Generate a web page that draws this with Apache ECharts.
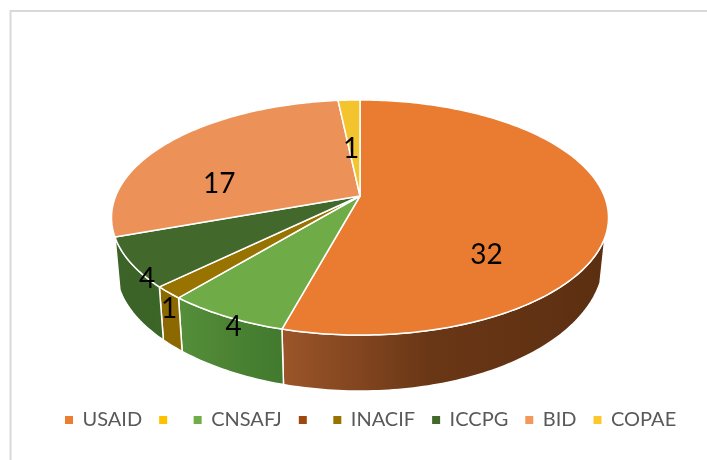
<!DOCTYPE html>
<html>
<head>
<meta charset="utf-8">
<style>
  html, body { margin: 0; padding: 0; background: #fff; }
  #chart { width: 707px; height: 460px; }
</style>
</head>
<body>
<div id="chart"></div>
<script src="https://cdn.jsdelivr.net/npm/echarts@6/dist/echarts.min.js"></script>
<script>
// two legend entries have no text in the original, zero width characters keep them distinct
var categories = ["USAID", "\u200b", "CNSAFJ", "\u200c", "INACIF", "ICCPG", "BID", "COPAE"];
var values = [32, 0, 4, 0, 1, 4, 17, 1];

var topColors = ["#e97c30", "#ffc000", "#6fab46", "#9e480e", "#997300", "#43682b", "#ec9259", "#f4c42e"];
var legendColors = ["#ed7d31", "#ffc000", "#70ad47", "#9e480e", "#997300", "#43682b", "#f4985a", "#ffc72e"];
var wallStops = [
  ["#9c5529", "#6a3716", "#5c2f11"],
  ["#9c7400", "#9c7400", "#9c7400"],
  ["#558f3a", "#4c8434", "#427a2e"],
  ["#9e480e", "#9e480e", "#9e480e"],
  ["#8c6900", "#8c6900", "#8c6900"],
  ["#3c6428", "#3b6327", "#3c6528"],
  ["#c47a48", "#c47a48", "#c47a48"],
  ["#c9a020", "#c9a020", "#c9a020"],
];
// label shift from the middle of the slice top, zero slices have no label
var labelShift = [[4, 51], [0, 0], [-65, 76], [0, 0], [-102, 68], [-104, 51], [-42, 17], [-3, 5]];

var total = values.reduce(function (a, b) { return a + b; }, 0);

// perspective of the tilted pie
var cx = 360, cy = 196, radX = 244.3, radY = 113.6, persp = 0.183;
var wallShrink = 0.98, wallEdge = 0.34;

function toTop(deg, f) {
  var t = (deg * Math.PI) / 180;
  var u = Math.sin(t) * f, v = -Math.cos(t) * f;
  var d = 1 - persp * v;
  return [cx + (radX * u) / d, cy + (radY * v) / d];
}
function toBottom(deg) {
  var t = (deg * Math.PI) / 180;
  var u = Math.sin(t), v = -Math.cos(t);
  var p = toTop(deg, 1);
  return [cx + (p[0] - cx) * wallShrink, p[1] + 48 + 8 * v * v - 6 * u * (1 - v)];
}
function sweep(from, to) {
  var out = [], n = Math.max(1, Math.ceil(to - from));
  for (var i = 0; i <= n; i++) out.push(from + ((to - from) * i) / n);
  return out;
}

function sliceSeries(idx) {
  var before = 0;
  for (var i = 0; i < idx; i++) before += values[i];
  var a0 = (before / total) * 360;
  var a1 = ((before + values[idx]) / total) * 360;
  var wallFrom = (Math.acos(-wallEdge) * 180) / Math.PI;
  var wallTo = 360 - wallFrom;
  return {
    type: "custom",
    name: categories[idx],
    coordinateSystem: "none",
    silent: true,
    z: 2,
    itemStyle: { color: legendColors[idx] },
    data: [values[idx]],
    renderItem: function () {
      var kids = [];
      if (values[idx] === 0) return { type: "group", children: kids };
      var w0 = Math.max(a0, wallFrom), w1 = Math.min(a1, wallTo);
      if (w1 > w0) {
        var angles = sweep(w0, w1);
        var wall = angles.map(function (a) { return toTop(a, 1); });
        var low = angles.map(toBottom).reverse();
        var stops = wallStops[idx];
        kids.push({
          type: "polygon",
          shape: { points: wall.concat(low) },
          style: {
            fill: new echarts.graphic.LinearGradient(wall[0][0], 0, wall[wall.length - 1][0], 0, [
              { offset: 0, color: stops[2] },
              { offset: 0.55, color: stops[1] },
              { offset: 1, color: stops[0] },
            ], true),
            stroke: "#fff",
            lineWidth: 1.5,
          },
        });
      }
      var rim = sweep(a0, a1).map(function (a) { return toTop(a, 1); });
      kids.push({
        type: "polygon",
        z2: 5,
        shape: { points: [[cx, cy]].concat(rim) },
        style: { fill: topColors[idx], stroke: "#fff", lineWidth: 1.5, lineJoin: "round" },
      });
      return { type: "group", children: kids };
    },
  };
}

function labelSeries(idx) {
  var before = 0;
  for (var i = 0; i < idx; i++) before += values[i];
  var mid = ((before + values[idx] / 2) / total) * 360;
  return {
    type: "custom",
    name: categories[idx] + " label",
    coordinateSystem: "none",
    silent: true,
    z: 5,
    data: [values[idx]],
    renderItem: function () {
      if (values[idx] === 0) return { type: "group", children: [] };
      var p = toTop(mid, 0.5);
      return {
        type: "text",
        style: {
          x: p[0] + labelShift[idx][0],
          y: p[1] + labelShift[idx][1],
          text: String(values[idx]),
          fill: "#000",
          font: '28px Lato, "Open Sans", sans-serif',
          align: "center",
          verticalAlign: "middle",
        },
      };
    },
  };
}

var chart = echarts.init(document.getElementById("chart"));
var series = categories.map(function (c, i) { return sliceSeries(i); })
  .concat(categories.map(function (c, i) { return labelSeries(i); }));

chart.setOption({
  animation: false,
  backgroundColor: "#fff",
  graphic: [
    {
      type: "rect",
      shape: { x: 10.5, y: 11, width: 900, height: 600 },
      style: { fill: "transparent", stroke: "#d9d9d9", lineWidth: 2 },
      silent: true,
      z: 0,
    },
  ],
  legend: {
    left: 65,
    top: 410,
    padding: 0,
    icon: "rect",
    itemWidth: 8,
    itemHeight: 8,
    itemGap: 17,
    data: categories.map(function (c, i) {
      return { name: c, itemStyle: { color: legendColors[i] } };
    }),
    textStyle: {
      color: "#595959",
      fontFamily: "Lato, sans-serif",
      fontSize: 20,
      padding: [0, 0, 0, 4.5],
    },
  },
  series: series,
});
</script>
</body>
</html>
